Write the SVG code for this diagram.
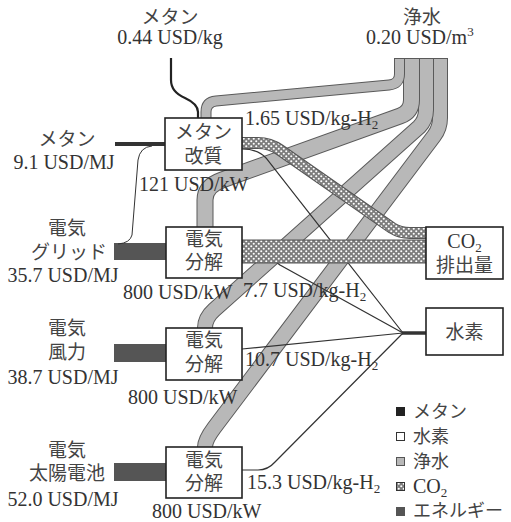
<svg xmlns="http://www.w3.org/2000/svg" xmlns:xlink="http://www.w3.org/1999/xlink" width="511" height="522" viewBox="0 0 511 522">
<style>
.num{font-family:"Liberation Serif","Times New Roman",serif;font-size:20px;fill:#333}
.jp{font-family:"Noto Sans CJK JP","Noto Sans",sans-serif;font-size:19px;fill:#444}
.lg{font-size:18px}
.box{fill:#fff;stroke:#222;stroke-width:1.6}
.wo{fill:none;stroke:#5a5a5a}
.wi{fill:none;stroke:#b8b8b8}
.h2{fill:none;stroke:#333;stroke-width:1.2}
.en{fill:#555}
.co2o{fill:none;stroke:#555}
.co2i{fill:none;stroke:url(#hatch)}
</style>
<defs>
<pattern id="hatch" patternUnits="userSpaceOnUse" width="5" height="5">
<rect width="5" height="5" fill="#7c7c7c"/>
<circle cx="1.25" cy="1.25" r="1.05" fill="#fff"/>
<circle cx="3.75" cy="3.75" r="1.05" fill="#fff"/>
</pattern>
</defs>
<rect width="511" height="522" fill="#fff"/>
<g id="connectors">
<!-- energy inputs -->
<rect class="en" x="114" y="243" width="52" height="17"/>
<rect class="en" x="114" y="344" width="52" height="18"/>
<rect class="en" x="114" y="463" width="52" height="18"/>
<rect x="115" y="142" width="50" height="4" fill="#333"/>
<path d="M152,146 Q140,147 138,160 L132,235 Q130,243 118,244" fill="none" stroke="#333" stroke-width="1"/>
<!-- methane feed -->
<path d="M171,58 V80 Q171,92 185,98 Q198,104 198,112 V118" fill="none" stroke="#222" stroke-width="2.2"/>
<!-- water bands -->
<path class="wo" stroke-width="16" d="M440,58 V118 Q440,128 434,136 L214,428 Q205,440 205,447"/>
<path class="wi" stroke-width="14" d="M440,58 V118 Q440,128 434,136 L214,428 Q205,440 205,447"/>
<path class="wo" stroke-width="16" d="M426,58 V110 Q426,120 419,127 L214,310 Q205,318 205,328"/>
<path class="wi" stroke-width="14" d="M426,58 V110 Q426,120 419,127 L214,310 Q205,318 205,328"/>
<path class="wo" stroke-width="17" d="M411.5,58 V100 Q411.5,112 400,116 L222,180 Q205,186 205,200 V227"/>
<path class="wi" stroke-width="15" d="M411.5,58 V100 Q411.5,112 400,116 L222,180 Q205,186 205,200 V227"/>
<path class="wo" stroke-width="11" d="M399.5,58 V74 Q399.5,84 389,85 L216,101 Q206,102 206,112 V118"/>
<path class="wi" stroke-width="9" d="M399.5,58 V74 Q399.5,84 389,85 L216,101 Q206,102 206,112 V118"/>
<path d="M394,58.5 H448" stroke="#5a5a5a" stroke-width="1"/>
<!-- hydrogen -->
<path class="h2" d="M242,149 Q258,149 266,158 L403,333"/>
<path class="h2" d="M242,258 H262 Q272,258 280,265 L403,333"/>
<path class="h2" d="M242,349 L403,333"/>
<path class="h2" d="M242,470 H258 Q268,470 275,462 L403,333"/>
<path d="M402,333 H426" stroke="#333" stroke-width="3.5"/>
<!-- CO2 -->
<path class="co2o" stroke-width="12" d="M242,143 H258 Q270,143 280,150 L392,228 Q400,233 410,233 H426"/>
<path class="co2i" stroke-width="10" d="M242,143 H258 Q270,143 280,150 L392,228 Q400,233 410,233 H426"/>
<rect x="242" y="240" width="184" height="23" fill="url(#hatch)" stroke="#555" stroke-width="1"/>
</g>
<g id="reformer">
<rect class="box" x="165" y="118" width="77" height="52"/>
<text class="jp" x="203.5" y="139" text-anchor="middle">メタン</text>
<text class="jp" x="203.5" y="163" text-anchor="middle">改質</text>
</g>
<g id="elec1">
<rect class="box" x="166" y="227" width="76" height="51"/>
<text class="jp" x="204" y="246" text-anchor="middle">電気</text>
<text class="jp" x="204" y="269" text-anchor="middle">分解</text>
</g>
<g id="elec2">
<rect class="box" x="166" y="328" width="76" height="52"/>
<text class="jp" x="204" y="347" text-anchor="middle">電気</text>
<text class="jp" x="204" y="371" text-anchor="middle">分解</text>
</g>
<g id="elec3">
<rect class="box" x="166" y="447" width="76" height="51"/>
<text class="jp" x="204" y="467" text-anchor="middle">電気</text>
<text class="jp" x="204" y="490" text-anchor="middle">分解</text>
</g>
<g id="co2box">
<rect class="box" x="426" y="227" width="77" height="52"/>
<text class="num" x="464.5" y="248" text-anchor="middle">CO<tspan font-size="13" dy="4">2</tspan></text>
<text class="jp" x="464.5" y="272" text-anchor="middle">排出量</text>
</g>
<g id="h2box">
<rect class="box" x="426" y="308" width="77" height="47"/>
<text class="jp" x="464.5" y="339" text-anchor="middle">水素</text>
</g>
<g id="labels">
<text class="jp" x="170" y="24" text-anchor="middle">メタン</text>
<text class="num" x="170" y="44" text-anchor="middle">0.44 USD/kg</text>
<text class="jp" x="422" y="24" text-anchor="middle">浄水</text>
<text class="num" x="366" y="44">0.20 USD/m<tspan font-size="13" dy="-8">3</tspan></text>
<text class="num" x="245" y="125">1.65 USD/kg-H<tspan font-size="13" dy="4">2</tspan></text>
<text class="jp" x="67" y="146" text-anchor="middle">メタン</text>
<text class="num" x="64" y="169" text-anchor="middle">9.1 USD/MJ</text>
<text class="num" x="139" y="191">121 USD/kW</text>
<text class="jp" x="67" y="235" text-anchor="middle">電気</text>
<text class="jp" x="69" y="259" text-anchor="middle">グリッド</text>
<text class="num" x="63" y="282" text-anchor="middle">35.7 USD/MJ</text>
<text class="num" x="123" y="299">800 USD/kW</text>
<text class="num" x="243" y="297">7.7 USD/kg-H<tspan font-size="13" dy="4">2</tspan></text>
<text class="jp" x="67" y="335" text-anchor="middle">電気</text>
<text class="jp" x="67" y="359" text-anchor="middle">風力</text>
<text class="num" x="63" y="384" text-anchor="middle">38.7 USD/MJ</text>
<text class="num" x="128" y="404">800 USD/kW</text>
<text class="num" x="245" y="366">10.7 USD/kg-H<tspan font-size="13" dy="4">2</tspan></text>
<text class="jp" x="67" y="457" text-anchor="middle">電気</text>
<text class="jp" x="67" y="480" text-anchor="middle">太陽電池</text>
<text class="num" x="63" y="506" text-anchor="middle">52.0 USD/MJ</text>
<text class="num" x="152" y="518">800 USD/kW</text>
<text class="num" x="247" y="489">15.3 USD/kg-H<tspan font-size="13" dy="4">2</tspan></text>
</g>
<g id="legend">
<rect x="396" y="407" width="9" height="9" fill="#222"/>
<rect x="396.5" y="432.5" width="8" height="8" fill="#fff" stroke="#333" stroke-width="1"/>
<rect x="396.5" y="457.5" width="8" height="8" fill="#b8b8b8" stroke="#555" stroke-width="1"/>
<rect x="396.5" y="482.5" width="8" height="8" fill="url(#hatch)" stroke="#333" stroke-width="1"/>
<rect x="396" y="507" width="9" height="9" fill="#555"/>
<text class="jp lg" x="413" y="418">メタン</text>
<text class="jp lg" x="413" y="443">水素</text>
<text class="jp lg" x="413" y="468">浄水</text>
<text class="num" x="413" y="493">CO<tspan font-size="13" dy="4">2</tspan></text>
<text class="jp lg" x="413" y="517">エネルギー</text>
</g>
</svg>
